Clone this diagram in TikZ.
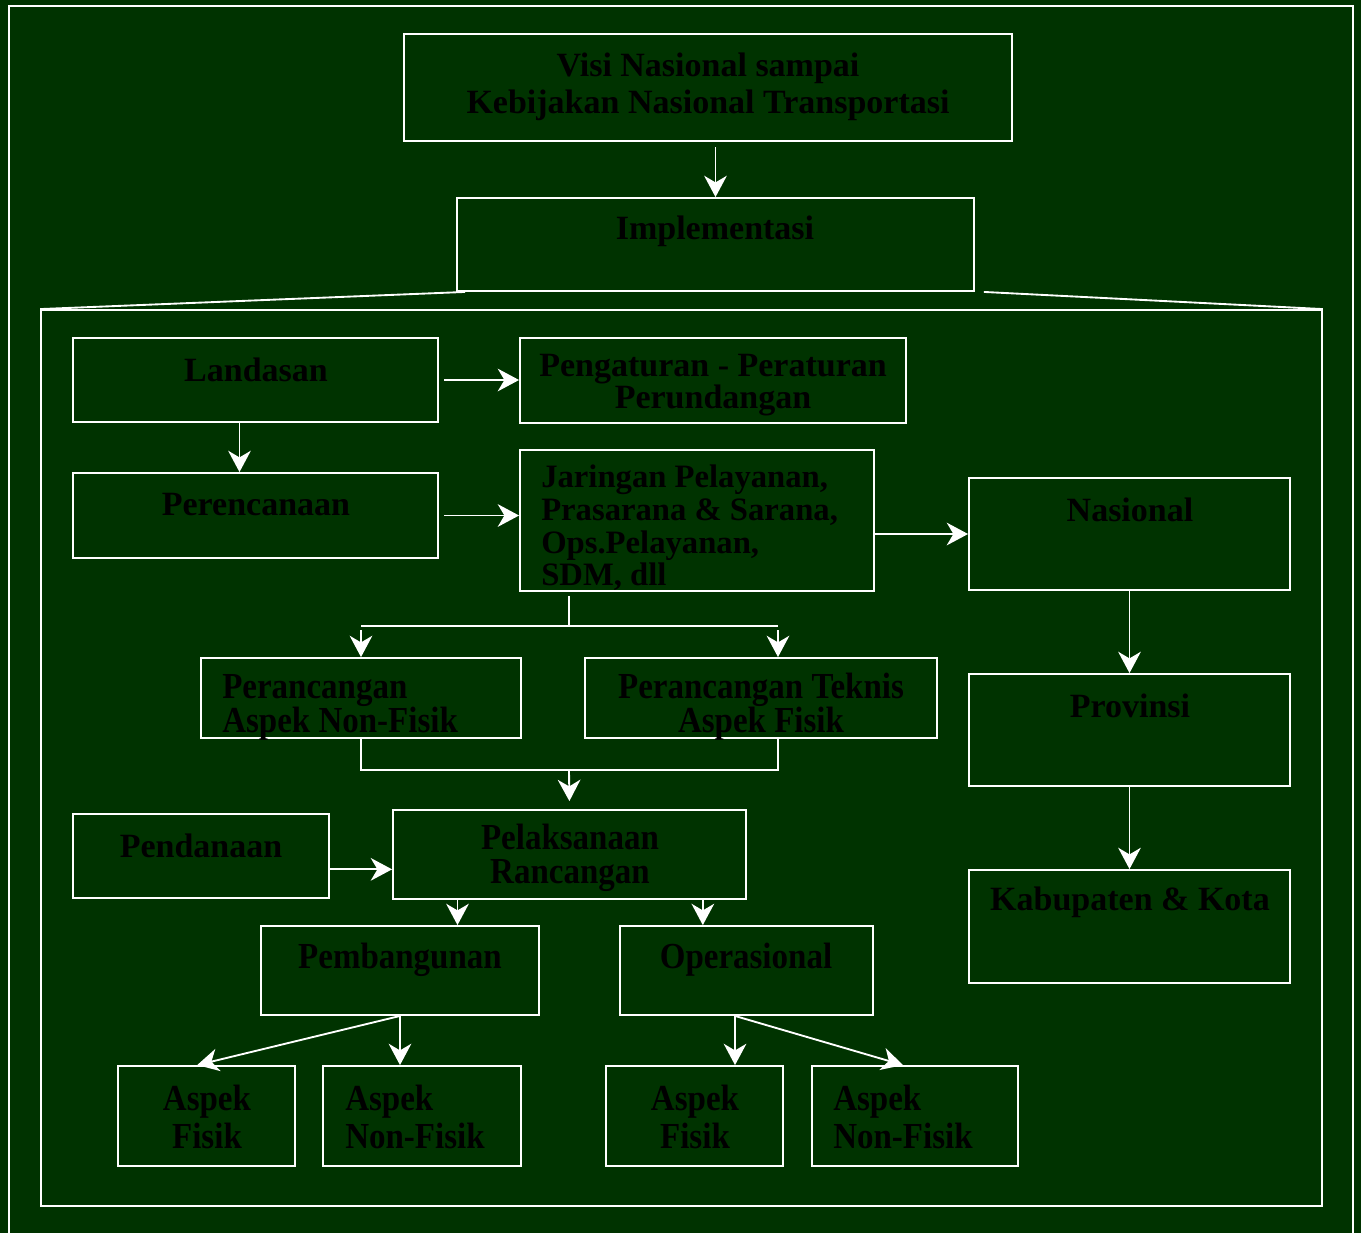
\documentclass[tikz,border=0pt]{standalone}
\usepackage{fontspec}
\setmainfont{Liberation Serif}
\newfontfamily\slimfont[FakeStretch=0.9]{Liberation Serif}
\usepackage{tikz}
\usetikzlibrary{arrows.meta,fit}

\definecolor{bggreen}{HTML}{003300}

\tikzset{
  box/.style={draw=white, line width=1.4pt, inner sep=0pt},
  txt/.style={text=black, font=\fontsize{25.5}{27.5}\selectfont\bfseries, align=center, inner sep=0pt},
  slim/.style={text=black, font=\slimfont\fontsize{27.5}{25.5}\selectfont\bfseries, align=center, inner sep=0pt},
  conn/.style={draw=white, line width=1.4pt},
  arr/.style={conn, -{Stealth[length=16pt,width=17pt,inset=5pt]}},
}

\begin{document}
\begin{tikzpicture}[x=0.75pt,y=0.75pt,yscale=-1,xscale=1]
        \useasboundingbox (0,0) rectangle (1361,1233);
        \fill[bggreen] (0,0) rectangle (1361,1233);
        \draw[conn] (9,1245) -- (9,6) -- (1353,6) -- (1353,1245);

        % boxes
        \node[box, fit={(404,34) (1012,141)}] (visi) {};
        \node[box, fit={(457,198) (974,291)}] (impl) {};
        \node[box, fit={(41,310) (1322,1206)}] (frame) {};
        \node[box, fit={(73,338) (438,422)}] (lnd) {};
        \node[box, fit={(73,473) (438,558)}] (prc) {};
        \node[box, fit={(520,338) (906,423)}] (peng) {};
        \node[box, fit={(520,450) (874,591)}] (jar) {};
        \node[box, fit={(969,478) (1290,590)}] (nas) {};
        \node[box, fit={(969,674) (1290,786)}] (prv) {};
        \node[box, fit={(969,870) (1290,983)}] (kab) {};
        \node[box, fit={(201,658) (521,738)}] (pna) {};
        \node[box, fit={(585,658) (937,738)}] (ptf) {};
        \node[box, fit={(73,814) (329,898)}] (pnd) {};
        \node[box, fit={(393,810) (746,899)}] (pel) {};
        \node[box, fit={(261,926) (539,1015)}] (pmb) {};
        \node[box, fit={(620,926) (873,1015)}] (ops) {};
        \node[box, fit={(118,1066) (295,1166)}] (af1) {};
        \node[box, fit={(323,1066) (521,1166)}] (anf1) {};
        \node[box, fit={(606,1066) (783,1166)}] (af2) {};
        \node[box, fit={(812,1066) (1018,1166)}] (anf2) {};

        % texts
        \node[txt] (tvisi) at (708,87) {Visi Nasional sampai\\Kebijakan Nasional Transportasi};
        \node[txt] (timpl) at (715,231) {Implementasi};
        \node[txt] (tlnd) at (256,370) {Landasan};
        \node[txt] (tprc) at (256,505) {Perencanaan};
        \node[txt, font=\fontsize{25.5}{24}\selectfont\bfseries] (tpeng) at (713,385) {Pengaturan - Peraturan\\Perundangan};
        \node[txt, align=left, anchor=west, font=\fontsize{24.5}{24.5}\selectfont\bfseries] (tjar) at (541,528) {Jaringan Pelayanan,\\Prasarana \& Sarana,\\Ops.Pelayanan,\\SDM, dll};
        \node[txt] (tnas) at (1130,510) {Nasional};
        \node[txt] (tprv) at (1130,706) {Provinsi};
        \node[txt] (tkab) at (1130,902) {Kabupaten \& Kota};
        \node[txt] (tpnd) at (201,846) {Pendanaan};
        \node[slim, align=left, anchor=west] (tpna) at (222,707) {Perancangan\\Aspek Non-Fisik};
        \node[slim] (tptf) at (761,707) {Perancangan Teknis\\Aspek Fisik};
        \node[slim] (tpel) at (570,858) {Pelaksanaan\\Rancangan};
        \node[slim] (tpmb) at (400,960) {Pembangunan};
        \node[slim] (tops) at (746,960) {Operasional};
        \node[slim, font=\slimfont\fontsize{27.5}{28.5}\selectfont\bfseries] (taf1) at (207,1117) {Aspek\\Fisik};
        \node[slim, align=left, anchor=west, font=\slimfont\fontsize{27.5}{28.5}\selectfont\bfseries] (tanf1) at (345,1117) {Aspek\\Non-Fisik};
        \node[slim, font=\slimfont\fontsize{27.5}{28.5}\selectfont\bfseries] (taf2) at (695,1117) {Aspek\\Fisik};
        \node[slim, align=left, anchor=west, font=\slimfont\fontsize{27.5}{28.5}\selectfont\bfseries] (tanf2) at (833,1117) {Aspek\\Non-Fisik};

        % connectors
        \draw[arr, shorten <=4pt] (visi.south -| impl.north) -- (impl.north);
        \draw[conn] (impl.south west) +(9,0) -- (frame.north west);
        \draw[conn] (impl.south east) +(9,0) -- (frame.north east);
        \draw[arr, shorten <=4pt] (lnd.east) -- (lnd.east -| peng.west);
        \draw[arr] ([xshift=-12pt]lnd.south) -- ([xshift=-12pt]prc.north);
        \draw[arr, shorten <=4pt] (prc.east) -- (prc.east -| jar.west);
        \draw[arr] (jar.east |- nas.west) -- (nas.west);

        \coordinate (jsplit) at (569,626);
        \coordinate (jleft) at (361,626);
        \coordinate (jright) at (778,626);
        \coordinate (jmerge) at (569,770);
        \draw[conn, shorten <=3pt] (jar.south -| jsplit) -- (jsplit);
        \draw[conn] (jleft) -- (jright);
        \draw[arr, shorten <=3pt] (jleft) -- (pna.north);
        \draw[arr, shorten <=3pt] (jright) -- (jright |- ptf.north);
        \draw[conn] (pna.south) |- (jmerge) -| (jright |- ptf.south);
        \draw[arr, shorten >=6pt] (jmerge) -- (pel.north);
        \draw[arr] ([yshift=10pt]pnd.east) -- ([yshift=10pt]pnd.east -| pel.west);

        \draw[arr] ([xshift=-84pt]pel.south) -- ([xshift=-84pt]pel.south |- pmb.north);
        \draw[arr] ([xshift=100pt]pel.south) -- ([xshift=100pt]pel.south |- ops.north);
        \draw[arr] (nas.south) -- (prv.north);
        \draw[arr] (prv.south) -- (kab.north);

        \draw[arr] (pmb.south) -- ([xshift=-7pt]af1.north);
        \draw[arr] (pmb.south) -- (pmb.south |- anf1.north);
        \coordinate (osplit) at ([xshift=-8.6pt]ops.south);
        \draw[arr] (osplit) -- (osplit |- af2.north);
        \draw[arr] (osplit) -- ([xshift=-9pt]anf2.north);
    \end{tikzpicture}
\end{document}
